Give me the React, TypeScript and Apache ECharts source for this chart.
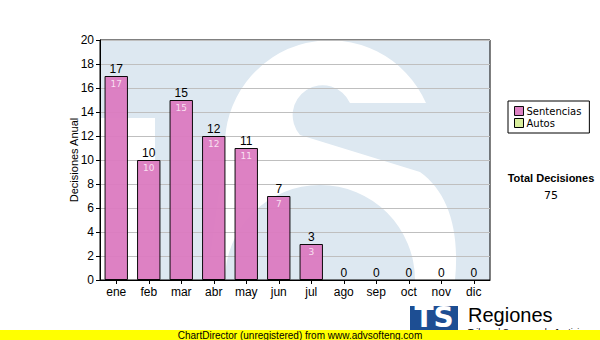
import React, { useEffect, useRef } from "react";
import * as echarts from "echarts";

const categories = ["ene", "feb", "mar", "abr", "may", "jun", "jul", "ago", "sep", "oct", "nov", "dic"];
const sentencias = [17, 10, 15, 12, 11, 7, 3, 0, 0, 0, 0, 0];
const autos = [0, 0, 0, 0, 0, 0, 0, 0, 0, 0, 0, 0];
const yTicks = { min: 0, max: 20, interval: 2 };
const totalLabel = "Total Decisiones";
const totalValue = sentencias.reduce((a, b) => a + b, 0) + autos.reduce((a, b) => a + b, 0);

const S_PATH =
  "M100 118 H155 V280 H100 Z " +
  "M426 103 A105 105 0 0 0 225 150 L207 280 L225 280 A95 95 0 0 1 415 280 L455 280 C460 230 448 192 420 172 L300 135 A30 30 0 1 1 350 103 Z";

let registered = false;
function ensureShape() {
  if (registered) return;
  echarts.graphic.registerShape("wmS", echarts.graphic.extendPath(S_PATH, {}) as any);
  registered = true;
}

const hideZero = (arr: number[]) =>
  arr.map((v) => (v === 0 ? { value: v, itemStyle: { borderWidth: 0, color: "rgba(0,0,0,0)" } } : v));

export default function App() {
  const ref = useRef<HTMLDivElement>(null);
  useEffect(() => {
    if (!ref.current) return;
    ensureShape();
    const chart = echarts.init(ref.current, undefined, { renderer: "svg" });
    const totals = categories.map((_, i) => sentencias[i] + autos[i]);
    chart.setOption({
      animation: false,
      backgroundColor: "#ffffff",
      textStyle: { fontFamily: "Liberation Sans" },
      grid: {
        left: 100,
        top: 40,
        width: 390,
        height: 240,
        show: true,
        borderColor: "#000",
        borderWidth: 1,
        backgroundColor: "transparent",
        containLabel: false,
      },
      legend: {
        data: ["Sentencias", "Autos"],
        orient: "vertical",
        left: 508,
        top: 101,
        width: 82,
        height: 36,
        padding: [5, 8, 5, 6],
        itemGap: 2,
        itemWidth: 9,
        itemHeight: 9,
        borderColor: "#000",
        borderWidth: 1,
        backgroundColor: "#fff",
        icon: "rect",
        textStyle: { fontFamily: "DejaVu Sans", fontSize: 10, color: "#000", padding: [0, 0, 0, -2] },
        itemStyle: { borderColor: "#000", borderWidth: 1 },
      },
      xAxis: {
        type: "category",
        data: categories,
        axisLine: { lineStyle: { color: "#000", width: 1 } },
        axisTick: { show: true, alignWithLabel: true, length: 4, lineStyle: { color: "#000" } },
        axisLabel: { color: "#000", fontSize: 12, margin: 6, fontFamily: "Liberation Sans" },
        splitLine: { show: false },
      },
      yAxis: {
        type: "value",
        min: yTicks.min,
        max: yTicks.max,
        interval: yTicks.interval,
        name: "Decisiones Anual",
        nameLocation: "middle",
        nameRotate: 90,
        nameGap: 21,
        nameMoveOverlap: false,
        nameTextStyle: { color: "#000", fontSize: 11, fontFamily: "Liberation Sans" },
        axisLine: { show: true, lineStyle: { color: "#000", width: 1 } },
        axisTick: { show: true, length: 4, lineStyle: { color: "#000" } },
        axisLabel: { color: "#000", fontSize: 12, margin: 6, fontFamily: "Liberation Sans" },
        splitLine: { show: true, lineStyle: { color: "#bfbfbf", width: 1 } },
      },
      series: [
        {
          name: "Sentencias",
          type: "bar",
          stack: "a",
          data: hideZero(sentencias),
          barCategoryGap: "28%",
          itemStyle: { color: "#db7ac0", borderColor: "#000", borderWidth: 1, opacity: 0.95 },
          label: {
            show: true,
            position: "insideTop",
            distance: 3,
            color: "#fbe6f4",
            fontSize: 9,
            fontFamily: "DejaVu Sans",
            formatter: (p: any) => (p.value > 0 ? String(p.value) : ""),
          },
          z: 3,
        },
        {
          name: "Autos",
          type: "bar",
          stack: "a",
          data: hideZero(autos),
          itemStyle: { color: "#d8ee9c", borderColor: "#000", borderWidth: 1 },
          z: 3,
        },
        {
          name: "total",
          type: "bar",
          data: totals,
          barGap: "-100%",
          itemStyle: { color: "rgba(0,0,0,0)", borderWidth: 0 },
          label: {
            show: true,
            position: "top",
            distance: 1,
            color: "#000",
            fontSize: 12,
            fontFamily: "Liberation Sans",
          },
          silent: true,
          z: 4,
        },
      ],
      graphic: [
        {
          type: "rect",
          z: -2,
          shape: { x: 100, y: 40, width: 390, height: 240 },
          style: { fill: "#dde8f1" },
        },
        {
          type: "wmS",
          z: -1,
          x: 0,
          y: 0,
          style: { fill: "#ffffff" },
        },
        {
          type: "text",
          x: 551,
          y: 172,
          style: {
            text: totalLabel,
            fontFamily: "Liberation Sans",
            fontSize: 11,
            fontWeight: "bold",
            fill: "#000",
            align: "center",
            verticalAlign: "top",
          },
        },
        {
          type: "text",
          x: 551,
          y: 190,
          style: {
            text: String(totalValue),
            fontFamily: "DejaVu Sans",
            fontSize: 11,
            fill: "#000",
            align: "center",
            verticalAlign: "top",
          },
        },
        {
          type: "text",
          x: 468,
          y: 327,
          style: {
            text: "Tribunal Supremo de Justicia",
            fontFamily: "Liberation Sans",
            fontSize: 9,
            fill: "#000",
            verticalAlign: "top",
          },
        },
        {
          type: "rect",
          shape: { x: 410, y: 306, width: 48, height: 28 },
          style: { fill: "#1d4e93" },
        },
        {
          type: "text",
          x: 434,
          y: 303,
          style: {
            text: "TS",
            fontFamily: "DejaVu Sans",
            fontSize: 28,
            fontWeight: "bold",
            fill: "#ffffff",
            align: "center",
            verticalAlign: "top",
          },
        },
        {
          type: "text",
          x: 468,
          y: 305,
          style: {
            text: "Regiones",
            fontFamily: "Liberation Sans",
            fontSize: 20,
            fill: "#000",
            verticalAlign: "top",
          },
        },
        {
          type: "rect",
          z: 10,
          shape: { x: 0, y: 330, width: 600, height: 10 },
          style: { fill: "#ffff00" },
        },
        {
          type: "text",
          z: 11,
          x: 300,
          y: 335,
          style: {
            text: "ChartDirector (unregistered) from www.advsofteng.com",
            fontFamily: "Liberation Sans",
            fontSize: 10,
            fill: "#000",
            align: "center",
            verticalAlign: "middle",
          },
        },
      ],
    });
    return () => chart.dispose();
  }, []);
  return (
    <div
      ref={ref}
      style={{ position: "fixed", left: 0, top: 0, width: 600, height: 340 }}
    />
  );
}
